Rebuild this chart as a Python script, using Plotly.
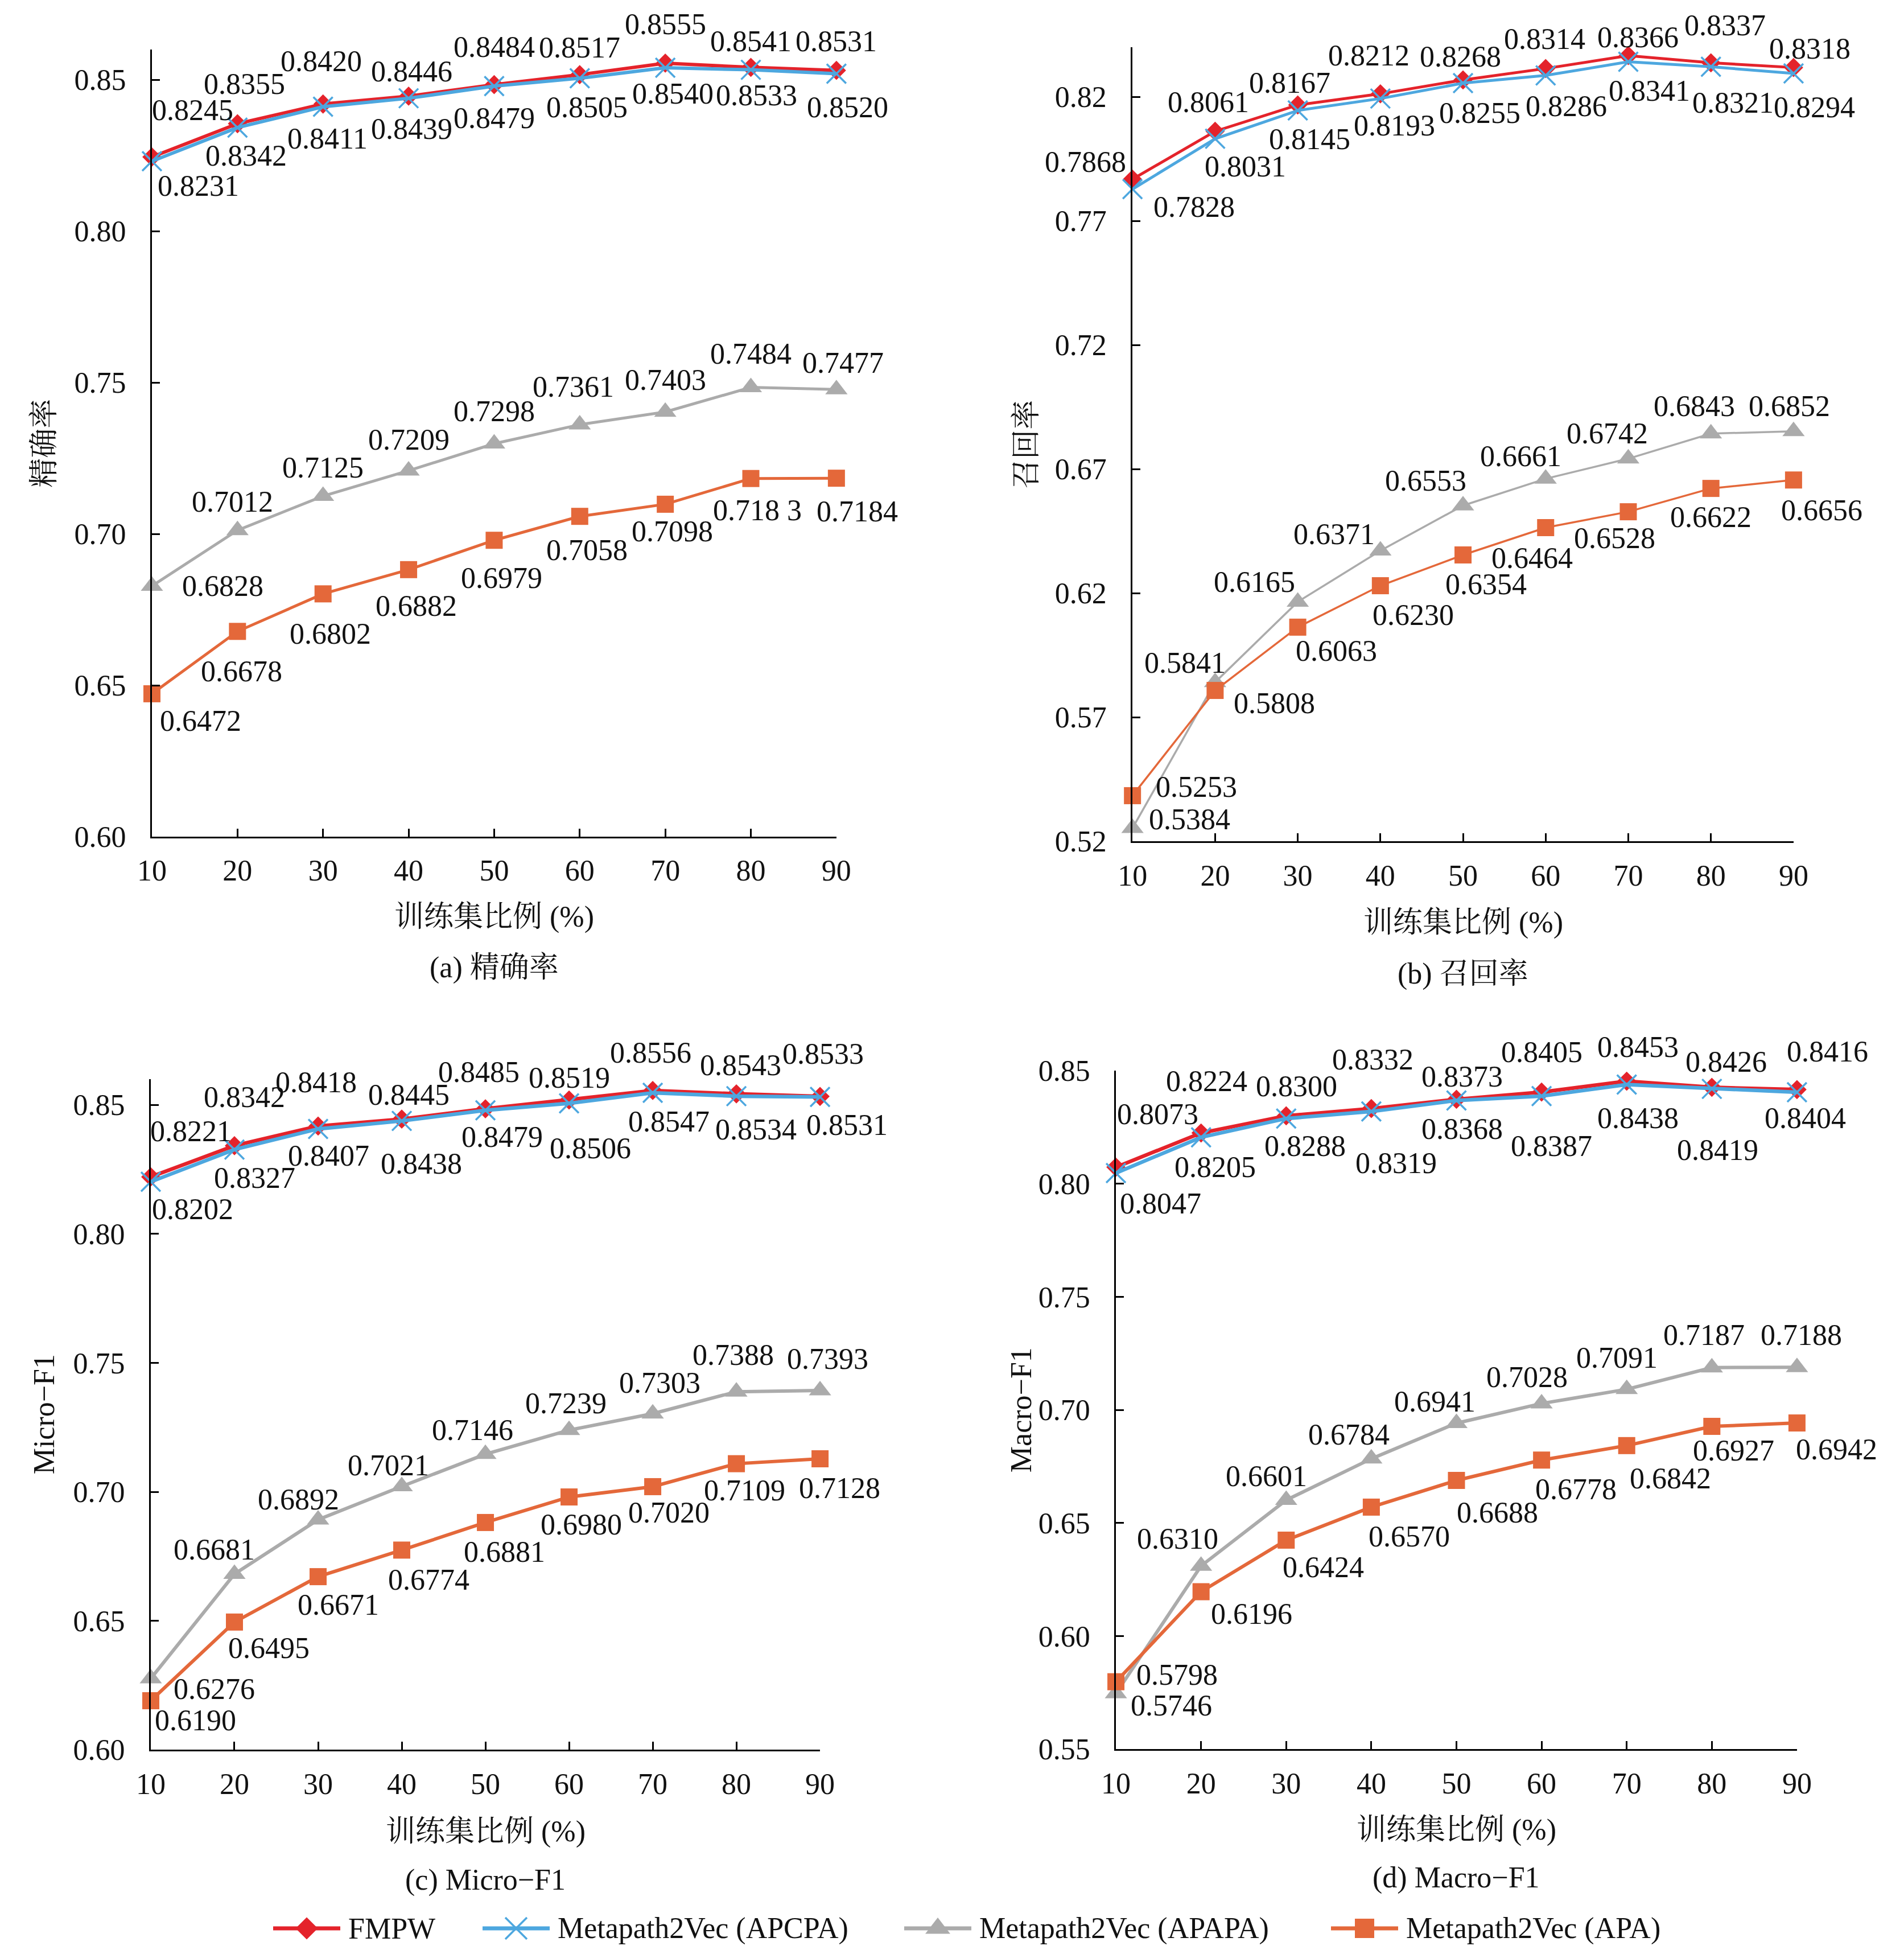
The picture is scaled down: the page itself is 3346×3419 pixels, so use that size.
import plotly.graph_objects as go

# x: training ratio (%)
ratio = [10, 20, 30, 40, 50, 60, 70, 80, 90]
series_names = ["FMPW", "Metapath2Vec (APCPA)", "Metapath2Vec (APAPA)", "Metapath2Vec (APA)"]

# (a) precision
prec_fmpw = [0.8245, 0.8355, 0.8420, 0.8446, 0.8484, 0.8517, 0.8555, 0.8541, 0.8531]
prec_apcpa = [0.8231, 0.8342, 0.8411, 0.8439, 0.8479, 0.8505, 0.8540, 0.8533, 0.8520]
prec_apapa = [0.6828, 0.7012, 0.7125, 0.7209, 0.7298, 0.7361, 0.7403, 0.7484, 0.7477]
prec_apa = [0.6472, 0.6678, 0.6802, 0.6882, 0.6979, 0.7058, 0.7098, 0.7183, 0.7184]

# (b) recall
rec_fmpw = [0.7868, 0.8061, 0.8167, 0.8212, 0.8268, 0.8314, 0.8366, 0.8337, 0.8318]
rec_apcpa = [0.7828, 0.8031, 0.8145, 0.8193, 0.8255, 0.8286, 0.8341, 0.8321, 0.8294]
rec_apapa = [0.5253, 0.5841, 0.6165, 0.6371, 0.6553, 0.6661, 0.6742, 0.6843, 0.6852]
rec_apa = [0.5384, 0.5808, 0.6063, 0.6230, 0.6354, 0.6464, 0.6528, 0.6622, 0.6656]

# (c) Micro-F1
mic_fmpw = [0.8221, 0.8342, 0.8418, 0.8445, 0.8485, 0.8519, 0.8556, 0.8543, 0.8533]
mic_apcpa = [0.8202, 0.8327, 0.8407, 0.8438, 0.8479, 0.8506, 0.8547, 0.8534, 0.8531]
mic_apapa = [0.6276, 0.6681, 0.6892, 0.7021, 0.7146, 0.7239, 0.7303, 0.7388, 0.7393]
mic_apa = [0.6190, 0.6495, 0.6671, 0.6774, 0.6881, 0.6980, 0.7020, 0.7109, 0.7128]

# (d) Macro-F1
mac_fmpw = [0.8073, 0.8224, 0.8300, 0.8332, 0.8373, 0.8405, 0.8453, 0.8426, 0.8416]
mac_apcpa = [0.8047, 0.8205, 0.8288, 0.8319, 0.8368, 0.8387, 0.8438, 0.8419, 0.8404]
mac_apapa = [0.5746, 0.6310, 0.6601, 0.6784, 0.6941, 0.7028, 0.7091, 0.7187, 0.7188]
mac_apa = [0.5798, 0.6196, 0.6424, 0.6570, 0.6688, 0.6778, 0.6842, 0.6927, 0.6942]

# the source figure prints this one label with a stray space
label_override = {(0, 3, 7): "0.718 3"}

# label offsets in px (dx right, dy down), hand placed like the original
off_a = [
    [(72, -82), (12, -70), (-3, -75), (5, -43), (0, -66), (0, -48), (0, -68), (0, -46), (0, -51)],
    [(82, 43), (15, 49), (8, 56), (5, 54), (0, 56), (13, 51), (13, 46), (10, 45), (20, 59)],
    [(125, 0), (-9, -50), (0, -50), (0, -54), (0, -57), (-11, -67), (0, -56), (0, -59), (12, -47)],
    [(86, 48), (7, 70), (13, 70), (13, 64), (13, 66), (13, 59), (12, 48), (11, 56), (37, 58)],
]
off_b = [
    [(-83, -30), (-12, -51), (-14, -39), (-20, -67), (-5, -41), (-2, -52), (17, -32), (25, -66), (29, -33)],
    [(108, 31), (53, 49), (21, 50), (25, 47), (29, 52), (36, 54), (37, 51), (39, 63), (37, 59)],
    [(112, -73), (-53, -34), (-76, -35), (-81, -29), (-66, -44), (-44, -40), (-37, -44), (-29, -48), (-7, -44)],
    [(100, 42), (104, 22), (68, 42), (58, 51), (40, 52), (-24, 53), (-24, 46), (0, 50), (50, 53)],
]
off_c = [
    [(71, -80), (18, -85), (-4, -77), (12, -43), (-12, -65), (0, -39), (-4, -66), (7, -50), (5, -75)],
    [(74, 48), (36, 50), (18, 47), (34, 75), (29, 47), (37, 79), (28, 51), (34, 59), (47, 49)],
    [(112, 18), (-35, -43), (-35, -35), (-24, -37), (-23, -42), (-6, -47), (12, -54), (-6, -65), (13, -55)],
    [(79, 34), (61, 46), (35, 49), (47, 52), (33, 52), (21, 48), (28, 46), (14, 47), (34, 51)],
]
off_d = [
    [(73, -93), (10, -91), (18, -52), (3, -86), (10, -40), (0, -70), (20, -60), (25, -45), (54, -67)],
    [(78, 54), (25, 52), (33, 48), (44, 91), (10, 50), (17, 88), (20, 59), (10, 107), (15, 45)],
    [(97, 21), (-41, -48), (-35, -42), (-39, -42), (-38, -38), (-26, -46), (-17, -55), (-14, -57), (8, -57)],
    [(107, -12), (89, 39), (65, 48), (67, 52), (72, 56), (60, 51), (77, 58), (38, 42), (70, 46)],
]

colors = ["#E4232B", "#4DA7DF", "#ABABAB", "#E4683A"]
symbols = ["diamond", "x-thin", "triangle-up", "square"]
msizes = [26, 34, 34, 30]

FONT = "Liberation Serif, Noto Serif CJK SC, Noto Sans CJK SC, serif"
FS = 52
W, H = 3346, 3419

panels = [
    dict(suf="", data=[prec_fmpw, prec_apcpa, prec_apapa, prec_apa], off=off_a,
         xdom=[0.0774, 0.4369], ydom=[0.5724, 0.9769], yr=[0.60, 0.86],
         ticks=[0.60, 0.65, 0.70, 0.75, 0.80, 0.85], lw=[6, 6, 5, 5],
         ytitle="精确率", ytx=0.0207, xty=0.5311, cap="(a) 精确率", capy=0.5050),
    dict(suf="2", data=[rec_fmpw, rec_apcpa, rec_apapa, rec_apa], off=off_b,
         xdom=[0.5924, 0.9396], ydom=[0.5700, 0.9781], yr=[0.52, 0.84],
         ticks=[0.52, 0.57, 0.62, 0.67, 0.72, 0.77, 0.82], lw=[5, 5, 3.5, 3.5],
         ytitle="召回率", ytx=0.5365, xty=0.5283, cap="(b) 召回率", capy=0.5020),
    dict(suf="3", data=[mic_fmpw, mic_apcpa, mic_apapa, mic_apa], off=off_c,
         xdom=[0.0768, 0.4283], ydom=[0.1032, 0.4478], yr=[0.60, 0.86],
         ticks=[0.60, 0.65, 0.70, 0.75, 0.80, 0.85], lw=[6.5, 6.5, 6, 6],
         ytitle="Micro−F1", ytx=0.0207, xty=0.0611, cap="(c) Micro−F1", capy=0.0363),
    dict(suf="4", data=[mac_fmpw, mac_apcpa, mac_apapa, mac_apa], off=off_d,
         xdom=[0.5837, 0.9414], ydom=[0.1035, 0.4522], yr=[0.55, 0.85],
         ticks=[0.55, 0.60, 0.65, 0.70, 0.75, 0.80, 0.85], lw=[6.5, 6.5, 6, 6],
         ytitle="Macro−F1", ytx=0.5338, xty=0.0620, cap="(d) Macro−F1", capy=0.0375),
]

fig = go.Figure()
annotations = []
txtfont = dict(family=FONT, size=FS, color="#111111")


def marker_for(s_i, size):
    mk = dict(symbol=symbols[s_i], size=size, color=colors[s_i])
    if symbols[s_i] == "x-thin":
        mk["line"] = dict(color=colors[s_i], width=3.5)
    return mk


for p_i, p in enumerate(panels):
    suf = p["suf"]
    for s_i, vals in enumerate(p["data"]):
        fig.add_trace(go.Scatter(
            x=ratio, y=vals, mode="lines+markers",
            name=series_names[s_i],
            line=dict(color=colors[s_i], width=p["lw"][s_i]),
            marker=marker_for(s_i, msizes[s_i]), cliponaxis=False,
            showlegend=False,
            xaxis="x" + suf, yaxis="y" + suf,
        ))
        for i, v in enumerate(vals):
            dx, dy = p["off"][s_i][i]
            annotations.append(dict(
                x=ratio[i], y=v, xref="x" + suf, yref="y" + suf,
                text=label_override.get((p_i, s_i, i), f"{v:.4f}"),
                showarrow=False, xshift=dx, yshift=-dy,
                xanchor="center", yanchor="middle", font=txtfont,
            ))

    tv = p["ticks"] + [p["yr"][1]]
    tt = [f"{t:.2f}" for t in p["ticks"]] + [""]
    axis_common = dict(showline=True, linecolor="black", linewidth=3, ticks="inside",
                       ticklen=14, tickwidth=3, tickcolor="black", showgrid=False,
                       zeroline=False, automargin=False, tickfont=txtfont)
    fig.update_layout(**{
        "xaxis" + suf: dict(domain=p["xdom"], range=[10, 90], anchor="y" + suf,
                            tickvals=ratio, ticklabelstandoff=12, **axis_common),
        "yaxis" + suf: dict(domain=p["ydom"], range=p["yr"], anchor="x" + suf,
                            tickvals=tv, ticktext=tt, ticklabelstandoff=32, **axis_common),
    })

    xmid = (p["xdom"][0] + p["xdom"][1]) / 2
    ymid = (p["ydom"][0] + p["ydom"][1]) / 2
    annotations.append(dict(x=p["ytx"], y=ymid, xref="paper", yref="paper", text=p["ytitle"],
                            textangle=-90, showarrow=False, xanchor="center", yanchor="middle",
                            font=txtfont))
    annotations.append(dict(x=xmid, y=p["xty"], xref="paper", yref="paper", text="训练集比例 (%)",
                            showarrow=False, xanchor="center", yanchor="middle", font=txtfont))
    annotations.append(dict(x=xmid, y=p["capy"], xref="paper", yref="paper", text=p["cap"],
                            showarrow=False, xanchor="center", yanchor="middle", font=txtfont))

# legend row, drawn on a hidden helper axis measured in page pixels
leg_start = [472, 840, 1581, 2331]
leg_len = 118
for s_i, x0 in enumerate(leg_start):
    fig.add_trace(go.Scatter(
        x=[x0, x0 + leg_len], y=[0.5, 0.5], mode="lines",
        line=dict(color=colors[s_i], width=7), showlegend=False,
        xaxis="x5", yaxis="y5", hoverinfo="skip",
    ))
    fig.add_trace(go.Scatter(
        x=[x0 + leg_len / 2], y=[0.5], mode="markers",
        marker=marker_for(s_i, msizes[s_i] + 4), showlegend=False,
        xaxis="x5", yaxis="y5", hoverinfo="skip", cliponaxis=False,
    ))
    annotations.append(dict(x=x0 + leg_len + 12, y=0.5, xref="x5", yref="y5",
                            text=series_names[s_i], showarrow=False,
                            xanchor="left", yanchor="middle", font=txtfont))

fig.update_layout(
    xaxis5=dict(domain=[0, 1], range=[0, W], visible=False, anchor="y5", fixedrange=True),
    yaxis5=dict(domain=[0.0014, 0.0214], range=[0, 1], visible=False, anchor="x5", fixedrange=True),
)

fig.update_layout(
    width=W, height=H,
    margin=dict(l=0, r=0, t=0, b=0, autoexpand=False),
    paper_bgcolor="white", plot_bgcolor="white",
    annotations=annotations,
    showlegend=False,
)

fig.write_html("out.html")
